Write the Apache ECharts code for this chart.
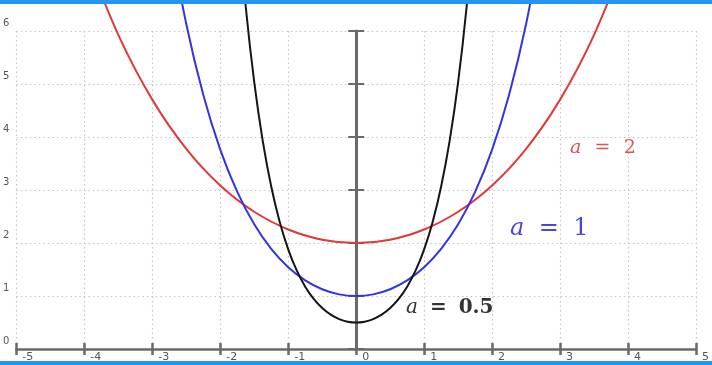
<!DOCTYPE html>
<html>
<head>
<meta charset="utf-8">
<script src="https://cdn.jsdelivr.net/npm/echarts@6/dist/echarts.min.js"></script>
<style>
  html, body { margin: 0; padding: 0; background: #fff; }
  #chart { width: 712px; height: 365px; }
</style>
</head>
<body>
<div id="chart"></div>
<script>
// curve samples (a = 2, a = 1, a = 0.5)
var redX = [-4, -3.5, -3, -2.5, -2, -1.5, -1, -0.5, 0, 0.5, 1, 1.5, 2, 2.5, 3, 3.5, 4];
var redY = [7.524, 5.928, 4.705, 3.777, 3.086, 2.589, 2.255, 2.063, 2, 2.063, 2.255, 2.589, 3.086, 3.777, 4.705, 5.928, 7.524];

var blueX = [-2.75, -2.5, -2.25, -2, -1.75, -1.5, -1.25, -1, -0.75, -0.5, -0.25, 0,
             0.25, 0.5, 0.75, 1, 1.25, 1.5, 1.75, 2, 2.25, 2.5, 2.75];
var blueY = [7.853, 6.132, 4.797, 3.762, 2.964, 2.352, 1.888, 1.543, 1.295, 1.128, 1.031, 1,
             1.031, 1.128, 1.295, 1.543, 1.888, 2.352, 2.964, 3.762, 4.797, 6.132, 7.853];

var blackX = [-1.75, -1.625, -1.5, -1.375, -1.25, -1.125, -1, -0.875, -0.75, -0.625, -0.5, -0.375, -0.25, -0.125, 0,
              0.125, 0.25, 0.375, 0.5, 0.625, 0.75, 0.875, 1, 1.125, 1.25, 1.375, 1.5, 1.625, 1.75];
var blackY = [8.286, 6.458, 5.034, 3.927, 3.066, 2.398, 1.881, 1.482, 1.176, 0.944, 0.772, 0.647, 0.564, 0.516, 0.5,
              0.516, 0.564, 0.647, 0.772, 0.944, 1.176, 1.482, 1.881, 2.398, 3.066, 3.927, 5.034, 6.458, 8.286];

var xTicks = [-5, 5, 1];   // min, max, step
var yTicks = [0, 6, 1];

function pairs(xs, ys) {
    return xs.map(function (x, i) { return [x, ys[i]]; });
}

var axisColor = '#6a6a6a';
var gridLine = { show: true, lineStyle: { color: '#c4c4c4', type: [1.5, 3], width: 1.2 } };

var chart = echarts.init(document.getElementById('chart'));

function mathLabel(name, value, size, color, gap, weight) {
    // italic variable, wide spacing around the equals sign
    return {
        text: '{i|' + name + '}' + gap + '=' + gap + value,
        rich: { i: { fontStyle: 'italic', fontFamily: 'DejaVu Serif', fontSize: size, fill: color } },
        fontFamily: 'DejaVu Serif', fontSize: size, fontWeight: weight || 'normal', fill: color
    };
}

var option = {
    backgroundColor: '#fff',
    animation: false,
    grid: { left: 15, right: 9, top: 31, bottom: 16 },
    xAxis: [
        {
            type: 'value', min: xTicks[0], max: xTicks[1], interval: xTicks[2],
            position: 'bottom',
            axisLine: { show: true, onZero: false, lineStyle: { color: axisColor, width: 2.5 } },
            axisTick: { show: true, length: 6, lineStyle: { color: axisColor, width: 2.5 } },
            axisLabel: {
                show: true, margin: 3, align: 'left', padding: [0, 0, 0, 6],
                color: '#555', fontSize: 11, fontFamily: 'DejaVu Sans',
                showMinLabel: true, showMaxLabel: true
            },
            splitLine: gridLine
        },
        {
            type: 'value', min: xTicks[0], max: xTicks[1], interval: xTicks[2],
            position: 'bottom',
            axisLine: { show: false, onZero: false },
            axisTick: { show: true, inside: true, length: 6, lineStyle: { color: axisColor, width: 2.5 } },
            axisLabel: { show: false },
            splitLine: { show: false }
        }
    ],
    yAxis: [
        {
            type: 'value', min: yTicks[0], max: yTicks[1], interval: yTicks[2],
            position: 'left',
            axisLine: { show: false, onZero: false },
            axisTick: { show: false },
            axisLabel: {
                show: true, margin: 7, verticalAlign: 'bottom', padding: [0, 0, 3, 0],
                color: '#555', fontSize: 10, fontFamily: 'DejaVu Sans',
                showMinLabel: true, showMaxLabel: true
            },
            splitLine: gridLine
        },
        {
            type: 'value', min: yTicks[0], max: yTicks[1], interval: yTicks[2],
            position: 'left',
            axisLine: { show: true, onZero: true, onZeroAxisIndex: 0, lineStyle: { color: axisColor, width: 3 } },
            axisTick: { show: true, length: 8, lineStyle: { color: axisColor, width: 2 } },
            axisLabel: { show: false },
            splitLine: { show: false }
        },
        {
            type: 'value', min: yTicks[0], max: yTicks[1], interval: yTicks[2],
            position: 'left',
            axisLine: { show: false, onZero: true, onZeroAxisIndex: 0 },
            axisTick: { show: true, inside: true, length: 8, lineStyle: { color: axisColor, width: 2 } },
            axisLabel: { show: false },
            splitLine: { show: false }
        }
    ],
    series: [
        {
            name: 'a = 2', type: 'line', data: pairs(redX, redY),
            smooth: 0.35, showSymbol: false, clip: false, z: 3,
            lineStyle: { color: '#e0393b', width: 2 }
        },
        {
            name: 'a = 1', type: 'line', data: pairs(blueX, blueY),
            smooth: 0.35, showSymbol: false, clip: false, z: 4,
            lineStyle: { color: '#3434e0', width: 2 }
        },
        {
            name: 'a = 0.5', type: 'line', data: pairs(blackX, blackY),
            smooth: 0.35, showSymbol: false, clip: false, z: 5,
            lineStyle: { color: '#151515', width: 2 }
        }
    ],
    graphic: [
        { type: 'text', left: 570, top: 139, z: 50, style: mathLabel('a', '2', 19, '#e05050', '\u2002\u2009') },
        { type: 'text', left: 510, top: 217, z: 50, style: mathLabel('a', '1', 24, '#4848d8', '\u2002\u200a') },
        { type: 'text', left: 406, top: 298, z: 50, style: mathLabel('a', '0.5', 20, '#333', '\u2002\u200a', 'bold') },
        { type: 'rect', left: 0, top: 0, z: 100, shape: { width: 712, height: 4 }, style: { fill: '#2196f3' } },
        { type: 'rect', left: 0, top: 361, z: 100, shape: { width: 712, height: 4 }, style: { fill: '#2196f3' } }
    ]
};

chart.setOption(option);
</script>
</body>
</html>
